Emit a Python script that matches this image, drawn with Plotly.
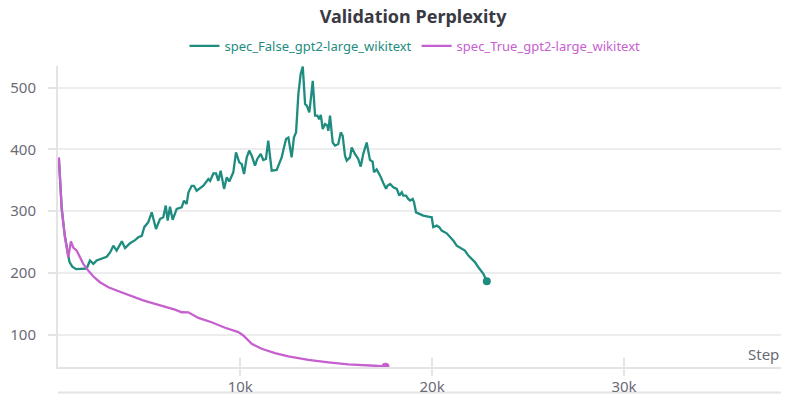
import plotly.graph_objects as go

# validation perplexity (step, value)
false_steps = [550, 700, 850, 1000, 1100, 1250, 1450, 1700, 2000, 2170, 2350, 2520, 2780, 3040, 3220,
               3390, 3560, 3830, 4000, 4260, 4520, 4690, 4870, 5000, 5210, 5390, 5610, 5820, 5990, 6120,
               6220, 6340, 6480, 6690, 6950, 7070, 7210, 7300, 7470, 7590, 7730, 8080, 8340, 8430, 8600,
               8740, 8860, 8980, 9160, 9300, 9430, 9640, 9780, 9950, 10080, 10200, 10340, 10470, 10600,
               10770, 10890, 11070, 11200, 11340, 11460, 11640, 11900, 12160, 12280, 12390, 12510, 12680,
               12800, 12910, 13030, 13150, 13260, 13380, 13470, 13600, 13670, 13780, 13900, 14020, 14120,
               14200, 14300, 14420, 14540, 14590, 14680, 14820, 14940, 15110, 15240, 15340, 15460, 15550,
               15720, 15810, 15980, 16150, 16280, 16410, 16590, 16760, 16900, 16970, 17110, 17290, 17460,
               17600, 17670, 17810, 17980, 18160, 18290, 18420, 18500, 18640, 18760, 18850, 18990, 19060,
               19160, 19370, 19540, 19800, 19980, 20060, 20240, 20370, 20500, 20760, 20930, 21110, 21280,
               21540, 21710, 21890, 22060, 22240, 22410, 22670, 22850]
false_ppl = [385, 305, 262, 236, 218, 210, 206, 206.5, 207, 220, 214.6, 220, 222.6, 226, 233,
             244, 236, 251, 240, 248, 253, 257.6, 260, 274, 282, 298, 271, 287, 290, 309,
             284.6, 307, 285.8, 303.6, 306, 317, 311.6, 330, 341, 341, 333, 341, 352, 349, 361,
             361, 349, 365.5, 336, 354.7, 348, 362.8, 395, 379, 376, 360, 387, 398, 389.8,
             373.6, 384.5, 392.6, 382.8, 384.5, 414, 365.5, 366.7, 387, 403, 416.8, 419, 387,
             419.4, 427.5, 489.6, 522, 534, 473.5, 470.7, 459.9, 478.8, 511, 454.5, 454.5, 449,
             456, 433, 441, 438.3, 430, 454.5, 411, 406, 408.7, 427.5, 422, 389.8, 381.7,
             387, 403, 392.6, 384.5, 372, 392.6, 411, 383, 380, 363, 367.5, 357.4, 345,
             336, 341, 344, 338.5, 336, 325, 330.4, 325, 325, 319.7, 317, 319.7, 314,
             298, 295.5, 292.7, 291, 290, 274, 276.5, 274, 268.4, 264, 258.7, 252, 244,
             238.8, 236, 228, 222.6, 217, 209, 198.4, 186.4]

true_steps = [550, 700, 870, 1040, 1180, 1300, 1480, 1650, 1820, 2080, 2350, 2690, 3130, 3560, 4000,
              4520, 4870, 5200, 5560, 5900, 6250, 6600, 6950, 7300, 7820, 8510, 9210, 9600, 9900,
              10160, 10600, 11120, 11810, 12510, 13550, 14590, 15630, 17020, 17570]
true_ppl = [387, 301, 257.6, 225, 251, 241, 236, 226, 214.6, 203.7, 194, 184.8, 176.7, 171.4, 166,
            160.5, 156.3, 153, 149.8, 147, 143.4, 140.5, 136.2, 136, 127, 120, 111, 107, 104,
            98.5, 85, 77, 70, 64.6, 59, 55, 51.6, 49.5, 48]

series = [
    ("spec_False_gpt2-large_wikitext", false_steps, false_ppl, "#1e8c7e"),
    ("spec_True_gpt2-large_wikitext", true_steps, true_ppl, "#c760cf"),
]

font = "'Noto Sans', Lato, sans-serif"
grey = "#6b6b76"
axis_grey = "#e4e4e7"
x_range = [505, 38180]
x_ticks = [10000, 20000, 30000]

fig = go.Figure()
for name, xs, ys, col in series:
    fig.add_trace(go.Scatter(
        x=xs, y=ys, mode="lines",
        name="<span style='color:%s'>%s</span>" % (col, name),
        line=dict(color=col, width=2.3),
    ))
for name, xs, ys, col in series:
    # dot on the last logged point
    fig.add_trace(go.Scatter(
        x=[xs[-1]], y=[ys[-1]], mode="markers", showlegend=False,
        marker=dict(color=col, size=8),
    ))

# overlaid axis only to draw the lower half of the x ticks
fig.add_trace(go.Scatter(x=[None], y=[None], xaxis="x2", showlegend=False))

# page body keeps an 8px margin; size the figure so the page does not scroll
fig.update_layout(
    width=773, height=386,
    margin=dict(l=50, r=0, t=58, b=27, autoexpand=False),
    paper_bgcolor="white", plot_bgcolor="white",
    font=dict(family=font, size=15, color=grey),
    title=dict(text="<b>Validation Perplexity</b>", x=0.524, xanchor="center",
               y=0.977, yanchor="middle",
               font=dict(family=font, size=18, color="#3a3a44")),
    legend=dict(orientation="h", xref="container", yref="container",
                x=0.5265, xanchor="center", y=0.902, yanchor="middle",
                font=dict(size=13), itemwidth=30, tracegroupgap=0),
    showlegend=True,
    xaxis=dict(range=x_range, tickvals=x_ticks,
               ticktext=["10k", "20k", "30k"], automargin=False,
               showgrid=False, zeroline=False,
               showline=True, linecolor=axis_grey, linewidth=2,
               ticks="inside", ticklen=9, tickwidth=1.5, tickcolor=axis_grey,
               ticklabelstandoff=5),
    xaxis2=dict(overlaying="x", anchor="y", side="bottom", range=x_range,
                tickvals=x_ticks, showticklabels=False,
                showgrid=False, zeroline=False, showline=False,
                ticks="outside", ticklen=8, tickwidth=1.5, tickcolor=axis_grey),
    yaxis=dict(range=[47.5, 535], tickvals=[100, 200, 300, 400, 500], automargin=False,
               showgrid=True, gridcolor="#ededef", gridwidth=1.5, zeroline=False,
               showline=True, linecolor=axis_grey, linewidth=2,
               ticks="outside", ticklen=8, tickwidth=1.5, tickcolor=axis_grey,
               ticklabelstandoff=9),
    annotations=[dict(text="Step", xref="paper", yref="paper", x=1, y=0.043,
                      xanchor="right", yanchor="middle", showarrow=False,
                      font=dict(size=15, color=grey))],
    shapes=[dict(type="line", xref="paper", yref="paper", x0=0, x1=1, y0=-0.085, y1=-0.085,
                 line=dict(color=axis_grey, width=2), layer="below")],
)

fig.write_html("out.html")
